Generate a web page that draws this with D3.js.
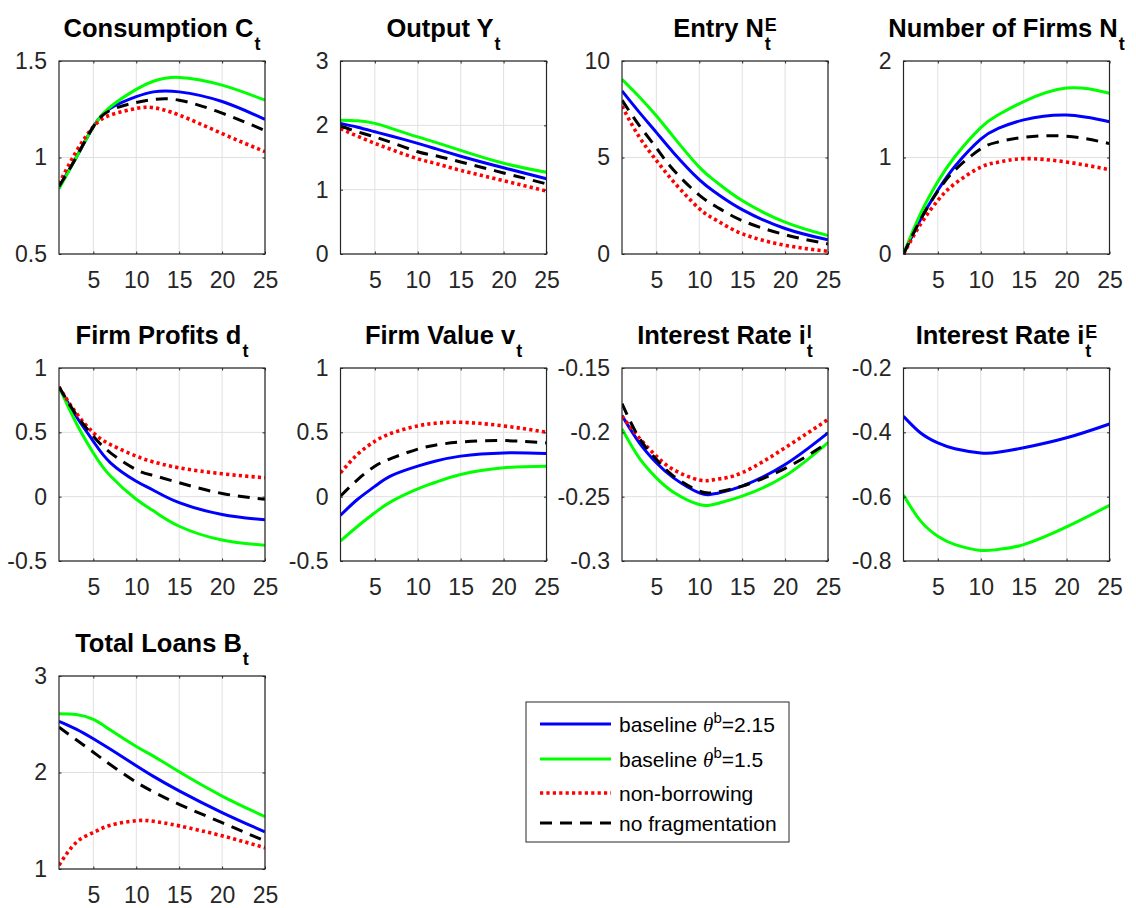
<!DOCTYPE html>
<html>
<head>
<meta charset="utf-8">
<script src="https://cdn.jsdelivr.net/npm/d3@7"></script>
<style>
	body { margin: 0; background: #ffffff; }
	text { font-family: "Liberation Sans", Arial, Helvetica, sans-serif; }
</style>
</head>
<body>
<svg id="chart" width="1136" height="908"></svg>
<script>

var periods = [1, 3, 5, 7, 10, 12, 15, 20, 25];

var xTicks = [5, 10, 15, 20, 25];

var seriesLabels = ["baseline", "baseline", "non-borrowing", "no fragmentation"];
var thetaValues = ["2.15", "1.5", null, null];

var consumption = {
	blue:  [0.847, 1.00, 1.16, 1.255, 1.315, 1.34, 1.34, 1.29, 1.197],
	green: [0.838, 1.00, 1.159, 1.263, 1.353, 1.395, 1.415, 1.375, 1.297],
	red:   [0.864, 1.03, 1.16, 1.22, 1.254, 1.258, 1.22, 1.124, 1.03],
	black: [0.85, 1.00, 1.16, 1.245, 1.285, 1.30, 1.297, 1.23, 1.14]
};
var output = {
	blue:  [2.03, 1.97, 1.90, 1.83, 1.72, 1.64, 1.52, 1.34, 1.17],
	green: [2.08, 2.07, 2.03, 1.95, 1.82, 1.74, 1.61, 1.41, 1.27],
	red:   [1.95, 1.83, 1.72, 1.62, 1.48, 1.41, 1.30, 1.14, 0.98],
	black: [1.99, 1.90, 1.82, 1.73, 1.59, 1.53, 1.43, 1.26, 1.09]
};
var entry = {
	blue:  [8.45, 7.35, 6.30, 5.25, 3.85, 3.15, 2.30, 1.32, 0.73],
	green: [9.05, 8.15, 7.16, 6.07, 4.50, 3.73, 2.77, 1.65, 0.95],
	red:   [7.66, 6.07, 4.85, 3.75, 2.35, 1.75, 1.05, 0.45, 0.14],
	black: [7.97, 6.67, 5.50, 4.35, 3.05, 2.45, 1.73, 1.00, 0.52]
};
var firms = {
	blue:  [0, 0.36, 0.66, 0.91, 1.19, 1.30, 1.39, 1.44, 1.37],
	green: [0, 0.42, 0.75, 1.01, 1.31, 1.44, 1.58, 1.72, 1.665],
	red:   [0, 0.31, 0.555, 0.73, 0.90, 0.95, 0.988, 0.953, 0.874],
	black: [0, 0.36, 0.65, 0.87, 1.09, 1.16, 1.21, 1.22, 1.144]
};
var profits = {
	blue:  [0.853, 0.625, 0.43, 0.263, 0.12, 0.05, -0.047, -0.138, -0.18],
	green: [0.853, 0.573, 0.34, 0.16, -0.02, -0.11, -0.23, -0.337, -0.378],
	red:   [0.853, 0.65, 0.497, 0.405, 0.315, 0.27, 0.224, 0.178, 0.147],
	black: [0.853, 0.638, 0.47, 0.34, 0.21, 0.165, 0.108, 0.025, -0.02]
};
var firmValue = {
	blue:  [-0.145, -0.02, 0.08, 0.165, 0.237, 0.275, 0.315, 0.34, 0.335],
	green: [-0.345, -0.23, -0.125, -0.035, 0.06, 0.11, 0.172, 0.224, 0.237],
	red:   [0.185, 0.33, 0.43, 0.495, 0.55, 0.57, 0.578, 0.55, 0.50],
	black: [0.005, 0.133, 0.237, 0.30, 0.37, 0.40, 0.425, 0.436, 0.418]
};
var rateLoans = {
	blue:  [-0.187, -0.208, -0.2237, -0.2354, -0.247, -0.2475, -0.2418, -0.225, -0.2004],
	green: [-0.1974, -0.2199, -0.2354, -0.2465, -0.2561, -0.2555, -0.2496, -0.234, -0.208],
	red:   [-0.1875, -0.2043, -0.2185, -0.229, -0.2371, -0.2365, -0.2314, -0.212, -0.19],
	black: [-0.1777, -0.2043, -0.221, -0.234, -0.2457, -0.2465, -0.2418, -0.228, -0.208]
};
var rateEquity = {
	blue:  [-0.35, -0.402, -0.433, -0.451, -0.464, -0.462, -0.448, -0.417, -0.374],
	green: [-0.595, -0.676, -0.723, -0.749, -0.767, -0.764, -0.749, -0.694, -0.627]
};
var loans = {
	blue:  [2.53, 2.45, 2.35, 2.24, 2.07, 1.96, 1.81, 1.585, 1.385],
	green: [2.61, 2.60, 2.55, 2.44, 2.27, 2.17, 2.007, 1.756, 1.543],
	red:   [1.04, 1.275, 1.378, 1.454, 1.50, 1.495, 1.447, 1.344, 1.22],
	black: [2.47, 2.34, 2.21, 2.08, 1.90, 1.80, 1.67, 1.48, 1.29]
};

var panels = [
	{title: "Consumption C", sub: "t", sup: null, data: consumption, domain: [0.5, 1.5], ticks: [0.5, 1, 1.5]},
	{title: "Output Y", sub: "t", sup: null, data: output, domain: [0, 3], ticks: [0, 1, 2, 3]},
	{title: "Entry N", sub: "t", sup: "E", data: entry, domain: [0, 10], ticks: [0, 5, 10]},
	{title: "Number of Firms N", sub: "t", sup: null, data: firms, domain: [0, 2], ticks: [0, 1, 2]},
	{title: "Firm Profits d", sub: "t", sup: null, data: profits, domain: [-0.5, 1], ticks: [-0.5, 0, 0.5, 1]},
	{title: "Firm Value v", sub: "t", sup: null, data: firmValue, domain: [-0.5, 1], ticks: [-0.5, 0, 0.5, 1]},
	{title: "Interest Rate i", sub: "t", sup: "l", data: rateLoans, domain: [-0.3, -0.15], ticks: [-0.3, -0.25, -0.2, -0.15]},
	{title: "Interest Rate i", sub: "t", sup: "E", data: rateEquity, domain: [-0.8, -0.2], ticks: [-0.8, -0.6, -0.4, -0.2]},
	{title: "Total Loans B", sub: "t", sup: null, data: loans, domain: [1, 3], ticks: [1, 2, 3]}
];

// line styles, drawn in this order (legend order)
var styles = [
	{key: "blue",  color: "#0000ff", width: 3, dash: null},
	{key: "green", color: "#00ff00", width: 3, dash: null},
	{key: "red",   color: "#ff0000", width: 3.6, dash: "3.2,3.2"},
	{key: "black", color: "#000000", width: 3, dash: "12,8"}
];

var COL_LEFT = [59, 340.5, 622, 903.5];
var ROW_TOP = [61, 368, 676];
var AX_W = 206;
var AX_H = 193;
var AXIS_COLOR = "#262626";
var GRID_COLOR = "#e0e0e0";
var TICK_LEN = 2.5;

var svg = d3.select("#chart");

svg.append("rect")
	.attr("width", 1136)
	.attr("height", 908)
	.style("fill", "#ffffff");

function fmt(v)
{
	return String(Math.round(v * 100) / 100);
}

panels.forEach(function(p, i)
{
	var col = i % 4;
	var row = Math.floor(i / 4);

	var g = svg.append("g")
		.attr("class", "panel")
		.attr("transform", "translate(" + COL_LEFT[col] + "," + ROW_TOP[row] + ")");

	var x = d3.scaleLinear().domain([1, 25]).range([0, AX_W]);
	var y = d3.scaleLinear().domain(p.domain).range([AX_H, 0]);

	// grid
	g.selectAll(".gx").data(xTicks).enter().append("line")
		.attr("x1", function(d) { return x(d); })
		.attr("x2", function(d) { return x(d); })
		.attr("y1", 0)
		.attr("y2", AX_H)
		.style("stroke", GRID_COLOR)
		.style("stroke-width", 1);

	g.selectAll(".gy").data(p.ticks).enter().append("line")
		.attr("x1", 0)
		.attr("x2", AX_W)
		.attr("y1", function(d) { return y(d); })
		.attr("y2", function(d) { return y(d); })
		.style("stroke", GRID_COLOR)
		.style("stroke-width", 1);

	// clip
	g.append("clipPath")
		.attr("id", "clip" + i)
		.append("rect")
		.attr("width", AX_W)
		.attr("height", AX_H);

	var line = d3.line()
		.x(function(d, k) { return x(periods[k]); })
		.y(function(d) { return y(d); })
		.curve(d3.curveNatural);

	styles.forEach(function(s)
	{
		if (!p.data[s.key]) return;
		g.append("path")
			.attr("d", line(p.data[s.key]))
			.attr("clip-path", "url(#clip" + i + ")")
			.style("fill", "none")
			.style("stroke", s.color)
			.style("stroke-width", s.width)
			.style("stroke-dasharray", s.dash)
			.style("stroke-linejoin", "round");
	});

	// axes with inward ticks on all sides
	var xBottom = d3.axisBottom(x).tickValues(xTicks).tickSizeInner(-TICK_LEN).tickSizeOuter(0).tickFormat(fmt).tickPadding(18);
	var xTop = d3.axisTop(x).tickValues(xTicks).tickSizeInner(-TICK_LEN).tickSizeOuter(0).tickFormat("");
	var yLeft = d3.axisLeft(y).tickValues(p.ticks).tickSizeInner(-TICK_LEN).tickSizeOuter(0).tickFormat(fmt).tickPadding(12);
	var yRight = d3.axisRight(y).tickValues(p.ticks).tickSizeInner(-TICK_LEN).tickSizeOuter(0).tickFormat("");

	var axes = [
		g.append("g").attr("transform", "translate(0," + AX_H + ")").call(xBottom),
		g.append("g").call(xTop),
		g.append("g").call(yLeft),
		g.append("g").attr("transform", "translate(" + AX_W + ",0)").call(yRight)
	];
	axes.forEach(function(a)
	{
		a.select(".domain").remove();
		a.selectAll("line").style("stroke", AXIS_COLOR);
		a.selectAll("text")
			.style("font-size", "23px")
			.style("fill", AXIS_COLOR)
			.style("font-family", "'Liberation Sans', Arial, sans-serif");
	});

	g.append("rect")
		.attr("width", AX_W)
		.attr("height", AX_H)
		.style("fill", "none")
		.style("stroke", AXIS_COLOR)
		.style("stroke-width", 1.2);

	// title with sub/superscript
	var t = g.append("g").attr("class", "title");
	var main = t.append("text")
		.text(p.title)
		.attr("x", 0)
		.attr("y", 0)
		.style("font-size", "25.5px")
		.style("font-weight", "bold")
		.style("fill", "#000");
	var w = main.node().getComputedTextLength() + 1;
	var extra = 0;
	if (p.sub)
	{
		var sb = t.append("text")
			.text(p.sub)
			.attr("x", w)
			.attr("y", 13)
			.style("font-size", "18px")
			.style("font-weight", "bold")
			.style("fill", "#000");
		extra = Math.max(extra, sb.node().getComputedTextLength());
	}
	if (p.sup)
	{
		var sp = t.append("text")
			.text(p.sup)
			.attr("x", w)
			.attr("y", -6)
			.style("font-size", "18px")
			.style("font-weight", "bold")
			.style("fill", "#000");
		extra = Math.max(extra, sp.node().getComputedTextLength());
	}
	var total = w + extra;
	t.attr("transform", "translate(" + (AX_W / 2 - total / 2) + ",-24)");
});

// legend
var legend = svg.append("g").attr("class", "legend");

legend.append("rect")
	.attr("x", 526)
	.attr("y", 702)
	.attr("width", 263)
	.attr("height", 140)
	.style("fill", "#ffffff")
	.style("stroke", AXIS_COLOR)
	.style("stroke-width", 1);

var legendY = [724, 759, 793, 823];

styles.forEach(function(s, k)
{
	legend.append("line")
		.attr("x1", 540)
		.attr("x2", 611)
		.attr("y1", legendY[k])
		.attr("y2", legendY[k])
		.style("stroke", s.color)
		.style("stroke-width", s.width)
		.style("stroke-dasharray", s.dash);

	var txt = legend.append("text")
		.attr("x", 619)
		.attr("y", legendY[k] + 8)
		.style("font-size", "21px")
		.style("fill", "#000");

	txt.append("tspan").text(seriesLabels[k]);
	if (thetaValues[k])
	{
		txt.append("tspan").text(" ");
		txt.append("tspan")
			.text("θ")
			.style("font-family", "'Liberation Serif', 'DejaVu Serif', serif")
			.style("font-style", "italic");
		txt.append("tspan")
			.text("b")
			.attr("dy", -9)
			.style("font-size", "15px");
		txt.append("tspan")
			.text("=" + thetaValues[k])
			.attr("dy", 9);
	}
});

</script>
</body>
</html>
